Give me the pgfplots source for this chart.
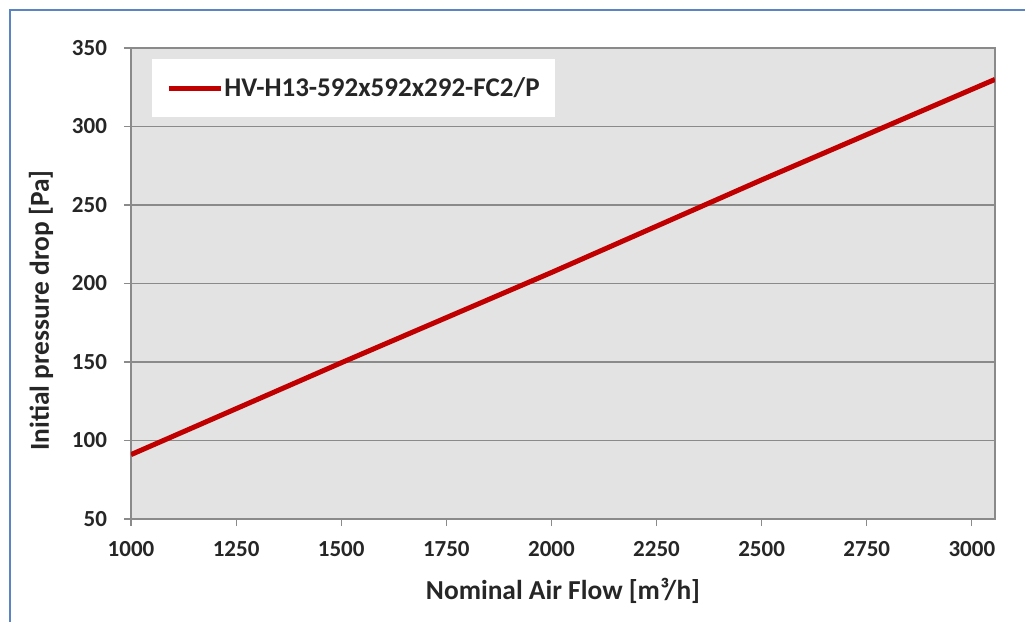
\documentclass[border=0pt]{standalone}
\usepackage{pgfplots}
\pgfplotsset{compat=1.18}
\usepackage{fontspec}
\setmainfont{Carlito}
\definecolor{linered}{HTML}{C00000}
\definecolor{plotbg}{HTML}{E3E3E3}
\definecolor{framecol}{HTML}{8A8A8A}
\definecolor{bordblue}{HTML}{5B84C4}
\begin{document}
\begin{tikzpicture}
\useasboundingbox (0pt,0pt) rectangle (512.5pt,311pt);
\draw[bordblue,line width=1.2pt] (5pt,0pt) -- (5pt,306pt) -- (512.5pt,306pt);
\begin{axis}[
  at={(65.5pt,51.5pt)}, anchor=south west,
  scale only axis, width=432pt, height=235.5pt,
  xmin=1000, xmax=3055, ymin=50, ymax=350,
  xtick={1000,1250,...,3000}, ytick={50,100,...,350},
  axis background/.style={fill=plotbg},
  axis line style={framecol, line width=0.8pt},
  ymajorgrids, grid style={framecol, line width=0.6pt},
  tick style={framecol, line width=0.6pt},
  tick align=outside, major tick length=3.5pt,
  xtick pos=bottom, ytick pos=left,
  /pgf/number format/assume math mode=true,
  /pgf/number format/set thousands separator={},
  ticklabel style={font=\fontsize{11.5}{13}\selectfont\bfseries, text=black!85},
  xticklabel style={yshift=-4pt},
  yticklabel style={xshift=-5pt},
  xlabel={Nominal Air Flow [m³/h]},
  ylabel={Initial pressure drop [Pa]},
  label style={font=\fontsize{13.7}{15}\selectfont\bfseries, text=black!85},
  xlabel style={at={(axis description cs:0.5,0)}, anchor=center, yshift=-36pt},
  ylabel style={at={(axis description cs:0,0.5)}, anchor=center, xshift=-13.5pt, yshift=45pt},
  legend style={at={(0.0243,0.977)}, anchor=north west, draw=none, fill=white,
    font=\fontsize{13.5}{15}\selectfont\bfseries, text=black!85,
    inner xsep=7pt, inner ysep=7pt, legend cell align=left,
    nodes={inner xsep=0.5pt},
    /tikz/every even column/.style={column sep=0pt}},
  legend image code/.code={\draw[#1, line width=2.5pt] (0pt,0pt) -- (26pt,0pt);},
]
\addplot[linered, line width=2.5pt] coordinates {
 (1000,91) (1500,149.5) (2000,207) (2500,266) (3055,330)
};
\addlegendentry{HV-H13-592x592x292-FC2/P}
\end{axis}
\end{tikzpicture}
\end{document}
